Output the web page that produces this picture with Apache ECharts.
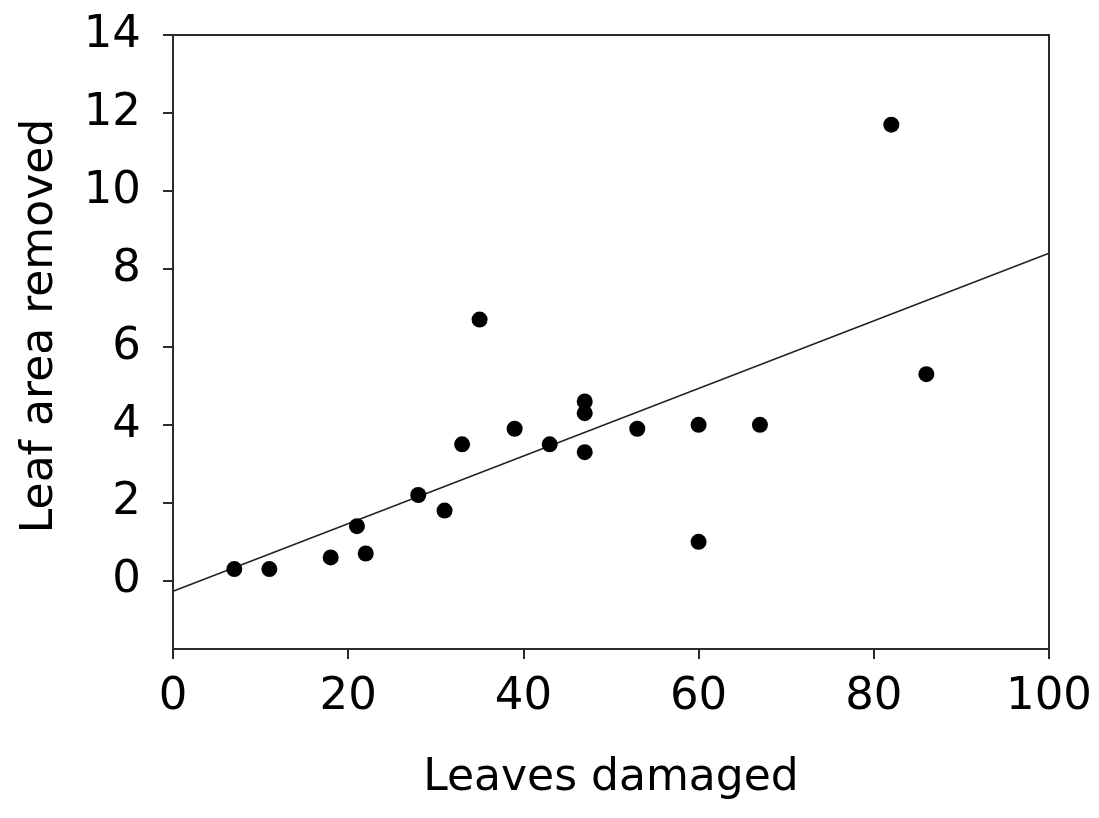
<!DOCTYPE html>
<html>
<head>
<meta charset="utf-8">
<script src="https://cdn.jsdelivr.net/npm/echarts@6/dist/echarts.min.js"></script>
<style>
  html, body { margin: 0; padding: 0; background: #fff; }
  #chart { width: 1099px; height: 818px; }
</style>
</head>
<body>
<div id="chart"></div>
<script>
// leaves damaged vs leaf area removed
var leavesDamaged = [7, 11, 18, 22, 21, 28, 31, 33, 35, 39, 43, 47, 47, 47, 53, 60, 60, 67, 82, 86];
var areaRemoved  = [0.3, 0.3, 0.6, 0.7, 1.4, 2.2, 1.8, 3.5, 6.7, 3.9, 3.5, 4.6, 4.3, 3.3, 3.9, 4.0, 1.0, 4.0, 11.7, 5.3];
// fitted line end points
var fitX = [0, 100];
var fitY = [-0.27, 8.4];
var xTicks = [0, 20, 40, 60, 80, 100];
var yTicks = [0, 2, 4, 6, 8, 10, 12, 14];

var font = 'DejaVu Sans';
var axisCol = '#2a2a2a';

var chart = echarts.init(document.getElementById('chart'));
var option = {
  backgroundColor: '#fff',
  animation: false,
  grid: {
    left: 173, right: 50, top: 35, bottom: 169,
    outerBoundsMode: 'none',
    show: true,
    borderColor: axisCol,
    borderWidth: 2
  },
  xAxis: {
    type: 'value',
    min: 0, max: 100,
    name: 'Leaves damaged',
    nameLocation: 'middle',
    nameGap: 108,
    nameTextStyle: { fontFamily: font, fontSize: 44, color: '#000' },
    axisLine: { show: true, onZero: false, lineStyle: { color: axisCol, width: 2 } },
    axisTick: { show: true, length: 10, customValues: xTicks, lineStyle: { color: axisCol, width: 2 } },
    axisLabel: { customValues: xTicks, margin: 26, fontFamily: font, fontSize: 45, color: '#000' },
    splitLine: { show: false }
  },
  yAxis: {
    type: 'value',
    min: -1.75, max: 14,
    name: 'Leaf area removed',
    nameLocation: 'middle',
    nameGap: 110,
    nameTextStyle: { fontFamily: font, fontSize: 44, color: '#000', padding: [0, 0, 0, 32] },
    axisLine: { show: true, onZero: false, lineStyle: { color: axisCol, width: 2 } },
    axisTick: { show: true, length: 10, customValues: yTicks, lineStyle: { color: axisCol, width: 2 } },
    axisLabel: { customValues: yTicks, margin: 32, fontFamily: font, fontSize: 45, color: '#000' },
    splitLine: { show: false }
  },
  series: [
    {
      type: 'line',
      data: fitX.map(function (x, i) { return [x, fitY[i]]; }),
      symbol: 'none',
      lineStyle: { color: '#222', width: 1.5 },
      z: 2
    },
    {
      type: 'scatter',
      data: leavesDamaged.map(function (x, i) { return [x, areaRemoved[i]]; }),
      symbol: 'circle',
      symbolSize: 16,
      itemStyle: { color: '#000', opacity: 1 },
      z: 3
    }
  ]
};
chart.setOption(option);
</script>
</body>
</html>
